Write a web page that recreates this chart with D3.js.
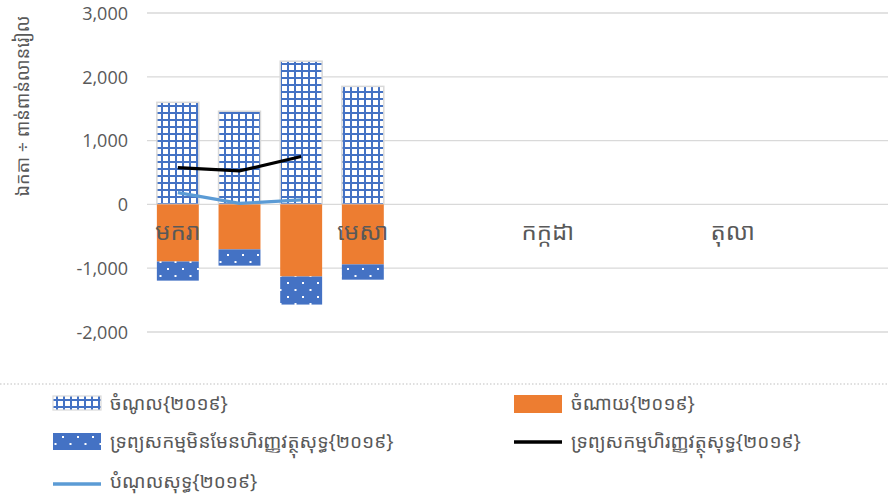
<!DOCTYPE html>
<html>
<head>
<meta charset="utf-8">
<script src="https://cdn.jsdelivr.net/npm/d3@7"></script>
<style>
  body { margin: 0; background: #fff; }
  text { font-family: "Noto Sans Khmer", "Khmer OS", "Noto Sans", "DejaVu Sans", sans-serif; fill: #595959; }
</style>
</head>
<body>
<svg id="chart" width="888" height="496"></svg>
<script>
const months = ["មករា","កុម្ភៈ","មីនា","មេសា","ឧសភា","មិថុនា","កក្កដា","សីហា","កញ្ញា","តុលា","វិច្ឆិកា","ធ្នូ"];
const shownMonths = ["មករា","មេសា","កក្កដា","តុលា"];
const revenue = [1600, 1460, 2245, 1850];
const expense = [-895, -705, -1130, -940];
const nonFinAssets = [-300, -255, -440, -240];
const finAssets = [575, 525, 750];
const netDebt = [185, 15, 70];
const yTicks = [-2000, -1000, 0, 1000, 2000, 3000];
const yTitle = "ឯកតា ÷ ពាន់ពាន់លានរៀល";
const legendNames = ["ចំណូល{២០១៩}","ចំណាយ{២០១៩}","ទ្រព្យសកម្មមិនមែនហិរញ្ញវត្ថុសុទ្ធ{២០១៩}","ទ្រព្យសកម្មហិរញ្ញវត្ថុសុទ្ធ{២០១៩}","បំណុលសុទ្ធ{២០១៩}"];

const blue = "#4472C4", orange = "#ED7D31", lineBlue = "#5B9BD5";
const svg = d3.select("#chart");
const defs = svg.append("defs");

// grid pattern for revenue
const grid = defs.append("pattern").attr("id","grid").attr("patternUnits","userSpaceOnUse")
  .attr("width",7).attr("height",7);
grid.append("rect").attr("width",7).attr("height",7).attr("fill","#fff");
grid.append("rect").attr("x",0).attr("y",0).attr("width",2).attr("height",7).attr("fill",blue);
grid.append("rect").attr("x",0).attr("y",0).attr("width",7).attr("height",2).attr("fill",blue);

// dotted pattern for non-financial assets
const dots = defs.append("pattern").attr("id","dots").attr("patternUnits","userSpaceOnUse")
  .attr("width",15).attr("height",14);
dots.append("rect").attr("width",15).attr("height",14).attr("fill",blue);
dots.append("rect").attr("x",2).attr("y",2).attr("width",2).attr("height",2).attr("fill","#fff");
dots.append("rect").attr("x",9.5).attr("y",9).attr("width",2).attr("height",2).attr("fill","#fff");

const x = d3.scaleBand().domain(months).range([147, 887]).paddingInner(0.32).paddingOuter(0.16);
const y = d3.scaleLinear().domain([-2000, 3000]).range([332, 13]);

// gridlines
svg.append("g").selectAll("line").data(yTicks).enter().append("line")
  .attr("x1",147).attr("x2",888)
  .attr("y1",d=>y(d)).attr("y2",d=>y(d))
  .attr("stroke","#d9d9d9").attr("stroke-width",1.3);

// y axis labels
const yAxis = d3.axisLeft(y).tickValues(yTicks).tickSize(0).tickPadding(0)
  .tickFormat(d=>d3.format(",")(d).replace("−","-"));
svg.append("g").attr("transform","translate(128,0)").call(yAxis)
  .call(g=>g.select(".domain").remove())
  .selectAll("text").style("font-size","18px").attr("fill","#595959")
  .style("font-family","'Open Sans','Liberation Sans',sans-serif").attr("dy","0.35em");

svg.append("text").attr("transform","translate(29,106) rotate(-90)")
  .attr("text-anchor","middle").style("font-size","18px").text(yTitle);

const bw = x.bandwidth();
// revenue bars
svg.append("g").selectAll("rect").data(revenue).enter().append("rect")
  .attr("x",(d,i)=>x(months[i])).attr("width",bw)
  .attr("y",d=>y(d)).attr("height",d=>y(0)-y(d))
  .attr("fill","url(#grid)").attr("stroke","#d9d9d9").attr("stroke-width",1.5);
// expense bars
svg.append("g").selectAll("rect").data(expense).enter().append("rect")
  .attr("x",(d,i)=>x(months[i])).attr("width",bw)
  .attr("y",y(0)).attr("height",d=>y(d)-y(0))
  .attr("fill",orange);
// non-financial assets stacked below expense
svg.append("g").selectAll("rect").data(nonFinAssets).enter().append("rect")
  .attr("x",(d,i)=>x(months[i])).attr("width",bw)
  .attr("y",(d,i)=>y(expense[i])).attr("height",(d,i)=>y(expense[i]+d)-y(expense[i]))
  .attr("fill","url(#dots)");

// category labels
svg.append("g").selectAll("text").data(shownMonths).enter().append("text")
  .attr("x",d=>x(d)+bw/2).attr("y",240)
  .attr("text-anchor","middle").style("font-size","24px").text(d=>d);

// lines
const line = d3.line().x((d,i)=>x(months[i])+bw/2).y(d=>y(d));
svg.append("path").datum(finAssets).attr("d",line)
  .attr("fill","none").attr("stroke","#000").attr("stroke-width",3.2);
svg.append("path").datum(netDebt).attr("d",line)
  .attr("fill","none").attr("stroke",lineBlue).attr("stroke-width",3.2);

// legend
svg.append("line").attr("x1",0).attr("x2",888).attr("y1",384).attr("y2",384)
  .attr("stroke","#bfbfbf").attr("stroke-width",1.2).attr("stroke-dasharray","1.5,2");
const lg = svg.append("g").style("font-size","19px");
const legendPos = [[53,403],[514,403],[53,441],[514,441],[53,481]];
legendNames.forEach((name,i)=>{
  const [lx,ly] = legendPos[i];
  if (i===0) lg.append("rect").attr("x",lx).attr("y",ly-7).attr("width",48).attr("height",14)
    .attr("fill","url(#grid)").attr("stroke","#d9d9d9").attr("stroke-width",1.2);
  if (i===1) lg.append("rect").attr("x",lx).attr("y",ly-8).attr("width",48).attr("height",18).attr("fill",orange);
  if (i===2) lg.append("rect").attr("x",lx).attr("y",ly-8).attr("width",48).attr("height",17).attr("fill","url(#dots)");
  if (i===3) lg.append("line").attr("x1",lx).attr("x2",lx+48).attr("y1",ly+1).attr("y2",ly+1)
    .attr("stroke","#000").attr("stroke-width",3.5);
  if (i===4) lg.append("line").attr("x1",lx).attr("x2",lx+48).attr("y1",ly+3).attr("y2",ly+3)
    .attr("stroke",lineBlue).attr("stroke-width",3.5);
  lg.append("text").attr("x",lx+57).attr("y",ly).attr("dy","0.35em").text(name);
});
</script>
</body>
</html>
